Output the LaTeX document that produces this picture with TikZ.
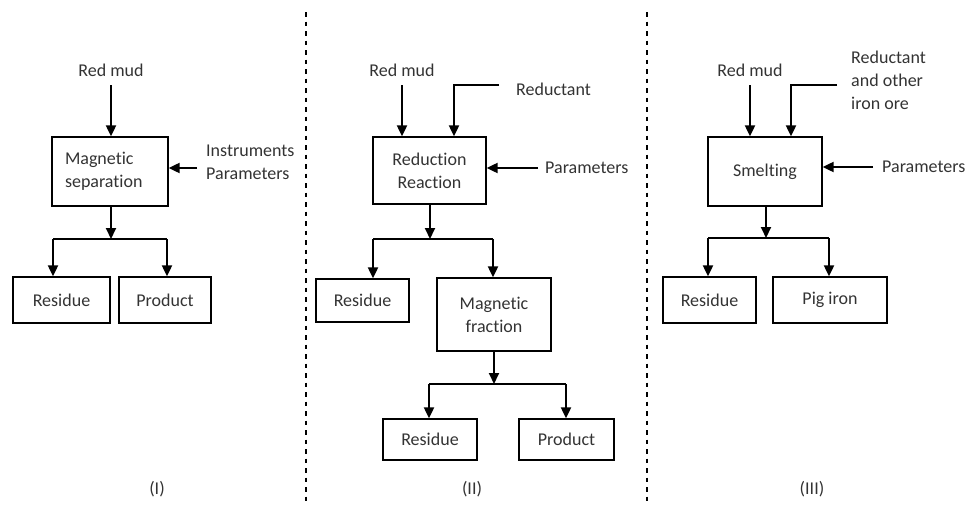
\documentclass[tikz,border=0pt]{standalone}
\usepackage{fontspec}
\setmainfont[Ligatures=NoCommon]{Carlito}
\usetikzlibrary{arrows.meta}
\begin{document}
\begin{tikzpicture}[x=1pt,y=-1pt,
  txt/.style={font=\fontsize{18}{23}\selectfont, inner sep=0pt, text=black!80},
  box/.style={draw, line width=1.3pt, inner sep=0pt, align=center, font=\fontsize{18}{23}\selectfont, text=black!80},
  arr/.style={line width=2pt, -{Triangle[length=11pt,width=10pt]}},
  ln/.style={line width=2pt},
  sep/.style={line width=1.2pt, dash pattern=on 4.5pt off 5pt}
]
\useasboundingbox (0,0) rectangle (970,506);
% separators
\coordinate (d1a) at (306,12); \coordinate (d1b) at (306,506);
\coordinate (d2a) at (647,12); \coordinate (d2b) at (647,506);
\draw[sep] (d1a) -- (d1b);
\draw[sep] (d2a) -- (d2b);

% ---------- Panel I ----------
\node[txt] (rm1) at (111,70) {Red mud};
\node[box, minimum width=114pt, minimum height=69pt, align=left, text width=90pt, inner xsep=13pt] (ms) at (110,171.5) {Magnetic\\separation};
\node[txt, anchor=west, align=left] (ip) at (206,162) {Instruments\\Parameters};
\node[box, minimum width=97pt, minimum height=46pt] (res1) at (61.5,300) {Residue};
\node[box, minimum width=92pt, minimum height=46pt] (prod1) at (165,300) {Product};
\node[txt] (l1) at (157,489) {(I)};
\coordinate (a1) at (111,85);
\coordinate (p1) at (197,168);
\coordinate (j1) at (111,239);
\coordinate (j1l) at (53,239);
\coordinate (j1r) at (167,239);
\draw[arr] (a1) -- (a1 |- ms.north);
\draw[arr] (p1) -- (p1 -| ms.east);
\draw[arr] (j1 |- ms.south) -- (j1);
\draw[ln] (j1l) -- (j1r);
\draw[arr] (j1l) -- (j1l |- res1.north);
\draw[arr] (j1r) -- (j1r |- prod1.north);

% ---------- Panel II ----------
\node[txt] (rm2) at (402,70) {Red mud};
\node[txt, anchor=west] (red2) at (516,89) {Reductant};
\node[box, minimum width=113pt, minimum height=67pt] (rr) at (429.5,170.5) {Reduction\\Reaction};
\node[txt, anchor=west] (par2) at (545,168) {Parameters};
\node[box, minimum width=93pt, minimum height=43pt] (res2) at (362.5,300.5) {Residue};
\node[box, minimum width=114pt, minimum height=73pt] (mf) at (494,314.5) {Magnetic\\fraction};
\node[box, minimum width=94pt, minimum height=41pt] (res3) at (430,439.5) {Residue};
\node[box, minimum width=95pt, minimum height=41pt] (prod2) at (566.5,439.5) {Product};
\node[txt] (l2) at (472,489) {(II)};
\coordinate (a2) at (402,85);
\coordinate (b2) at (499,85);
\coordinate (b2k) at (454,85);
\coordinate (p2) at (538,168);
\coordinate (j2) at (430,239);
\coordinate (j2l) at (373,239);
\coordinate (j2r) at (493,239);
\coordinate (k2) at (494,384);
\coordinate (k2l) at (429,384);
\coordinate (k2r) at (566,384);
\draw[arr] (a2) -- (a2 |- rr.north);
\draw[arr] (b2) -- (b2k) -- (b2k |- rr.north);
\draw[arr] (p2) -- (p2 -| rr.east);
\draw[arr] (j2 |- rr.south) -- (j2);
\draw[ln] (j2l) -- (j2r);
\draw[arr] (j2l) -- (j2l |- res2.north);
\draw[arr] (j2r) -- (j2r |- mf.north);
\draw[arr] (k2 |- mf.south) -- (k2);
\draw[ln] (k2l) -- (k2r);
\draw[arr] (k2l) -- (k2l |- res3.north);
\draw[arr] (k2r) -- (k2r |- prod2.north);

% ---------- Panel III ----------
\node[txt] (rm3) at (750,70) {Red mud};
\node[txt, anchor=west, align=left] (red3) at (851,80) {Reductant\\and other\\iron ore};
\node[box, minimum width=114pt, minimum height=69pt] (sm) at (765,171.5) {Smelting};
\node[txt, anchor=west] (par3) at (882,167) {Parameters};
\node[box, minimum width=93pt, minimum height=46pt] (res4) at (709.5,300) {Residue};
\node[box, minimum width=114pt, minimum height=46pt] (pig) at (830,300) {Pig iron};
\node[txt] (l3) at (812,489) {(III)};
\coordinate (a3) at (750,85);
\coordinate (b3) at (837,85);
\coordinate (b3k) at (791,85);
\coordinate (p3) at (873,167);
\coordinate (j3) at (766,238);
\coordinate (j3l) at (708,238);
\coordinate (j3r) at (829,238);
\draw[arr] (a3) -- (a3 |- sm.north);
\draw[arr] (b3) -- (b3k) -- (b3k |- sm.north);
\draw[arr] (p3) -- (p3 -| sm.east);
\draw[arr] (j3 |- sm.south) -- (j3);
\draw[ln] (j3l) -- (j3r);
\draw[arr] (j3l) -- (j3l |- res4.north);
\draw[arr] (j3r) -- (j3r |- pig.north);
\end{tikzpicture}
\end{document}
